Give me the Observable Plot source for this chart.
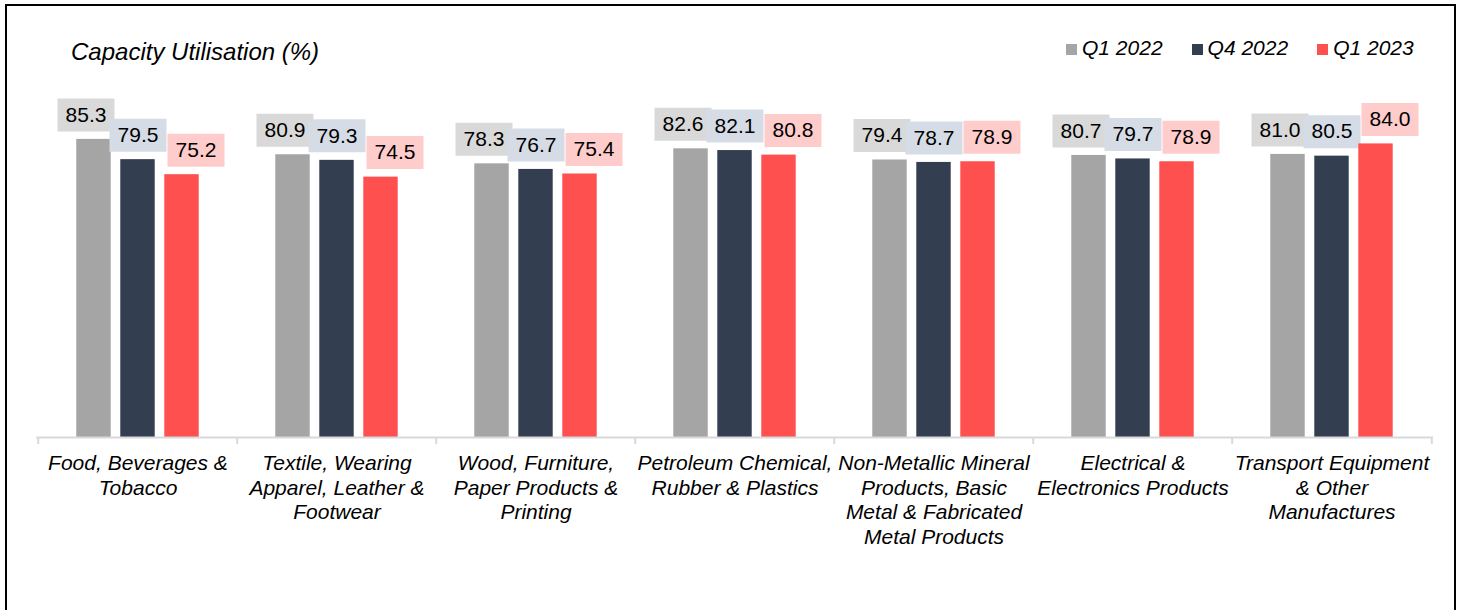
<!DOCTYPE html>
<html><head><meta charset="utf-8">
<script src="https://cdn.jsdelivr.net/npm/d3@7"></script>
<script src="https://cdn.jsdelivr.net/npm/@observablehq/plot@0.6"></script>
<style>
html,body{margin:0;padding:0;background:#fff;overflow:hidden;width:1463px;height:610px;}
body{position:relative;font-family:"Liberation Sans",Arial,sans-serif;color:#000;}
#frame{position:absolute;left:5px;top:4px;width:1447px;height:700px;border:2px solid #000;}
#title{position:absolute;left:71px;top:40px;font-size:24px;line-height:24px;font-style:italic;white-space:nowrap;}
#legend{position:absolute;left:1066px;top:37px;font-size:21px;line-height:21px;font-style:italic;white-space:nowrap;}
.item{display:inline-block;margin-right:29px;}
.sw{display:inline-block;width:11px;height:11px;margin-right:5px;}
#chart{position:absolute;left:0;top:70px;}
</style></head><body>
<div id="frame"></div>
<div id="title">Capacity Utilisation (%)</div>
<div id="legend"></div>
<div id="chart"></div>
<script>
const categories = ["Food", "Textile", "Wood", "Petroleum", "Non-Metallic", "Electrical", "Transport"];
const categoryLabels = [
  "Food, Beverages &\nTobacco",
  "Textile, Wearing\nApparel, Leather &\nFootwear",
  "Wood, Furniture,\nPaper Products &\nPrinting",
  "Petroleum Chemical,\nRubber & Plastics",
  "Non-Metallic Mineral\nProducts, Basic\nMetal & Fabricated\nMetal Products",
  "Electrical &\nElectronics Products",
  "Transport Equipment\n& Other\nManufactures"
];
const series = ["Q1 2022", "Q4 2022", "Q1 2023"];
const q1_2022 = [85.3, 80.9, 78.3, 82.6, 79.4, 80.7, 81.0];
const q4_2022 = [79.5, 79.3, 76.7, 82.1, 78.7, 79.7, 80.5];
const q1_2023 = [75.2, 74.5, 75.4, 80.8, 78.9, 78.9, 84.0];
const seriesValues = [q1_2022, q4_2022, q1_2023];
const barColors = ["#a5a5a5", "#333f50", "#ff5050"];
const boxColors = ["#d9d9d9", "#d6dce5", "#ffcccc"];

// layout
const W = 1463, H = 540, mL = 36, mR = 30, mB = 173;
const plotH = 349.5;
const mT = H - mB - plotH;
const bw = (W - mL - mR) / categories.length;
const barW = 35, step = 44;
const labelShift = [-8, 0, 14];
const boxW = 57, boxH = 33, boxGap = 8;
const font = '"Liberation Sans", Arial, sans-serif';

const boxSymbol = {
  draw(ctx) {
    ctx.moveTo(-boxW / 2, -boxH / 2);
    ctx.lineTo(boxW / 2, -boxH / 2);
    ctx.lineTo(boxW / 2, boxH / 2);
    ctx.lineTo(-boxW / 2, boxH / 2);
    ctx.closePath();
  }
};

const marks = [];
series.forEach((s, i) => {
  const rows = categories.map((c, j) => ({category: c, series: s, value: seriesValues[i][j]}));
  const o = (i - 1) * step;
  marks.push(Plot.barY(rows, {
    x: "category", y: "value", fill: barColors[i],
    insetLeft: bw / 2 + o - barW / 2, insetRight: bw / 2 - o - barW / 2
  }));
  marks.push(Plot.dot(rows, {
    x: "category", y: "value", symbol: boxSymbol, fill: boxColors[i], stroke: null,
    dx: o + labelShift[i], dy: -(boxGap + boxH / 2)
  }));
  marks.push(Plot.text(rows, {
    x: "category", y: "value", text: d => d.value.toFixed(1),
    dx: o + labelShift[i], dy: -(boxGap + boxH / 2), fontSize: 21, fill: "#000"
  }));
});

marks.push(Plot.ruleY([0], {stroke: "#d9d9d9", strokeWidth: 2}));
marks.push(Plot.axisX({anchor: "bottom", label: null, tickSize: 7, tickFormat: () => "", dx: -bw / 2, stroke: "#d9d9d9", strokeWidth: 2}));
marks.push(Plot.axisX({anchor: "bottom", label: null, ticks: [categories[categories.length - 1]], tickSize: 7, tickFormat: () => "", dx: bw / 2, stroke: "#d9d9d9", strokeWidth: 2}));
marks.push(Plot.text(categories, {
  x: d => d, text: (d, i) => categoryLabels[i], frameAnchor: "bottom", lineAnchor: "top",
  dy: 15.5, fontSize: 21, fontStyle: "italic", lineHeight: 24.5 / 21, fill: "#000"
}));

const chart = Plot.plot({
  width: W, height: H,
  marginLeft: mL, marginRight: mR, marginTop: mT, marginBottom: mB,
  x: {type: "band", domain: categories, padding: 0, axis: null, label: null},
  y: {domain: [0, 100], axis: null},
  style: {fontFamily: font, background: "transparent", overflow: "visible"},
  marks
});
document.getElementById("chart").appendChild(chart);

const legend = document.getElementById("legend");
series.forEach((s, i) => {
  const item = document.createElement("span");
  item.className = "item";
  const sw = document.createElement("span");
  sw.className = "sw";
  sw.style.background = barColors[i];
  item.appendChild(sw);
  item.appendChild(document.createTextNode(s));
  legend.appendChild(item);
});
</script>
</body></html>
